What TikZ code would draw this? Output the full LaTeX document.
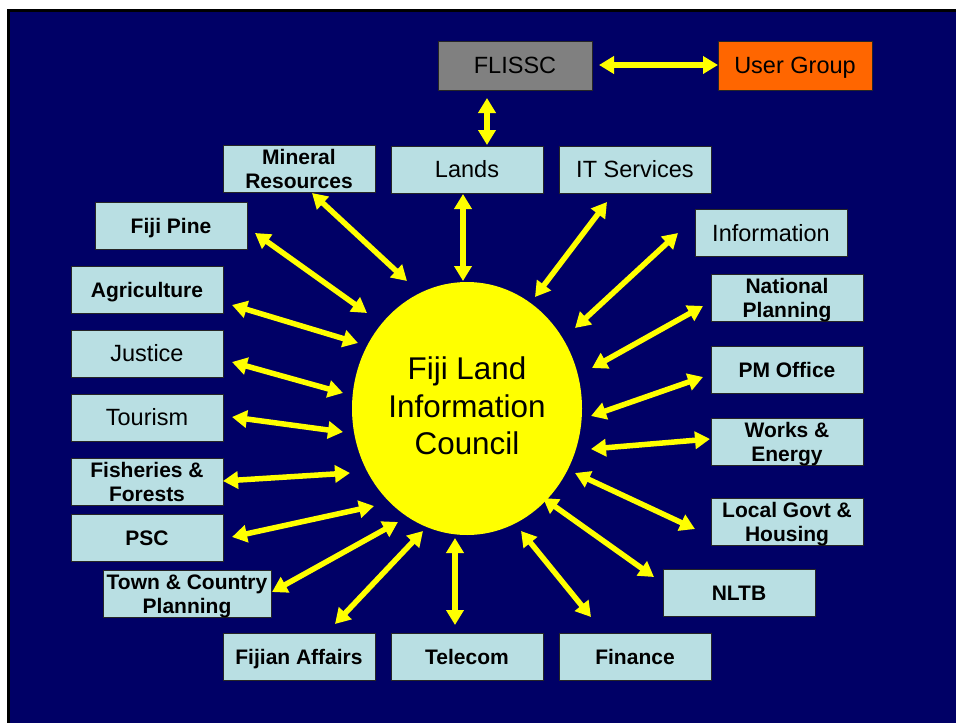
\documentclass[tikz,border=0pt]{standalone}
\usepackage{fontspec}
\setmainfont{Liberation Sans}
\usetikzlibrary{arrows.meta,shapes.geometric}
\definecolor{navy}{HTML}{000066}
\definecolor{boxblue}{HTML}{B9DFE3}
\definecolor{flgray}{HTML}{808080}
\definecolor{ugorange}{HTML}{FF6600}
\definecolor{sunyellow}{HTML}{FFFF00}
\begin{document}
\begin{tikzpicture}[x=1pt,y=-1pt,
  box/.style={draw=black!85, line width=0.8pt, fill=boxblue, minimum width=152pt, minimum height=47pt, inner sep=0pt, align=center, text=black, text depth=0pt},
  nb/.style={box, font=\fontsize{23.5}{26}\selectfont, text height=16.8pt},
  bb/.style={box, font=\fontsize{21}{24}\selectfont\bfseries, text height=15pt},
  twoline/.style={text height=39pt},
  arr/.style={draw=sunyellow, line width=5.5pt, {Triangle[length=15pt,width=17pt]}-{Triangle[length=15pt,width=17pt]}}
]
\useasboundingbox (0,0) rectangle (956,723);
\fill[white] (0,0) rectangle (956,723);
\fill[black] (7,9) rectangle (956,723);
\fill[navy] (10,12) rectangle (956,723);

% top row
\node[nb, fill=flgray, minimum width=154pt, minimum height=49pt] (flissc) at (515,65.5) {FLISSC};
\node[nb, fill=ugorange, minimum width=154pt, minimum height=49pt] (ug) at (795,65.5) {User Group};

% central circle
\node[ellipse, fill=sunyellow, minimum width=230pt, minimum height=253pt, inner sep=0pt, align=center,
      text height=97.5pt, text depth=5pt,
      font=\fontsize{31.4}{37.5}\selectfont] (c) at (467,408.5) {Fiji Land\\Information\\Council};

% boxes
\node[nb] (lands) at (467,169.5) {Lands};
\node[nb] (it) at (635,169.5) {IT Services};
\node[bb, twoline] (mineral) at (299,169) {Mineral\\Resources};
\node[bb] (pine) at (171,225.5) {Fiji Pine};
\node[nb] (info) at (771,233) {Information};
\node[bb] (agri) at (147,289.5) {Agriculture};
\node[bb, twoline] (natplan) at (787,297.5) {National\\Planning};
\node[nb] (justice) at (147,353.5) {Justice};
\node[bb] (pm) at (787,369.5) {PM Office};
\node[nb] (tourism) at (147,417.5) {Tourism};
\node[bb, twoline] (works) at (787,441.5) {Works \&\\Energy};
\node[bb, twoline] (fish) at (147,481.5) {Fisheries \&\\Forests};
\node[bb, twoline] (local) at (787,521.5) {Local Govt \&\\Housing};
\node[bb] (psc) at (147,537.5) {PSC};
\node[bb, twoline, minimum width=168pt] (town) at (187,593.5) {Town \& Country\\Planning};
\node[bb] (nltb) at (739,593) {NLTB};
\node[bb] (fijian) at (299,657) {Fijian Affairs};
\node[bb] (telecom) at (467,657) {Telecom};
\node[bb] (finance) at (635,657) {Finance};

% arrow end points (free ends, next to the boxes and the circle)
\coordinate (a1) at (599,65);   \coordinate (b1) at (718,65);
\coordinate (a2) at (487,98);   \coordinate (b2) at (487,145);
\coordinate (a3) at (463,194);  \coordinate (b3) at (463,281);
\coordinate (a4) at (607,202);  \coordinate (b4) at (535,297);
\coordinate (a5) at (678,233);  \coordinate (b5) at (575,328);
\coordinate (a6) at (703,306);  \coordinate (b6) at (592,368);
\coordinate (a7) at (703,377);  \coordinate (b7) at (591,416);
\coordinate (a8) at (710,439);  \coordinate (b8) at (591,449);
\coordinate (a9) at (695,529);  \coordinate (b9) at (575,473);
\coordinate (a10) at (654,577); \coordinate (b10) at (543,498);
\coordinate (a11) at (591,617); \coordinate (b11) at (521,531);
\coordinate (a12) at (455,625); \coordinate (b12) at (455,538);
\coordinate (a13) at (335,624); \coordinate (b13) at (423,531);
\coordinate (a14) at (272,592); \coordinate (b14) at (398,522);
\coordinate (a15) at (232,537); \coordinate (b15) at (374,506);
\coordinate (a16) at (223,481); \coordinate (b16) at (350,473);
\coordinate (a17) at (232,417); \coordinate (b17) at (343,432);
\coordinate (a18) at (232,362); \coordinate (b18) at (343,393);
\coordinate (a19) at (232,305); \coordinate (b19) at (358,343);
\coordinate (a20) at (255,233); \coordinate (b20) at (367,313);
\coordinate (a21) at (312,193); \coordinate (b21) at (407,281);

\foreach \i in {1,...,21} {\draw[arr] (a\i) -- (b\i);}
\end{tikzpicture}
\end{document}
